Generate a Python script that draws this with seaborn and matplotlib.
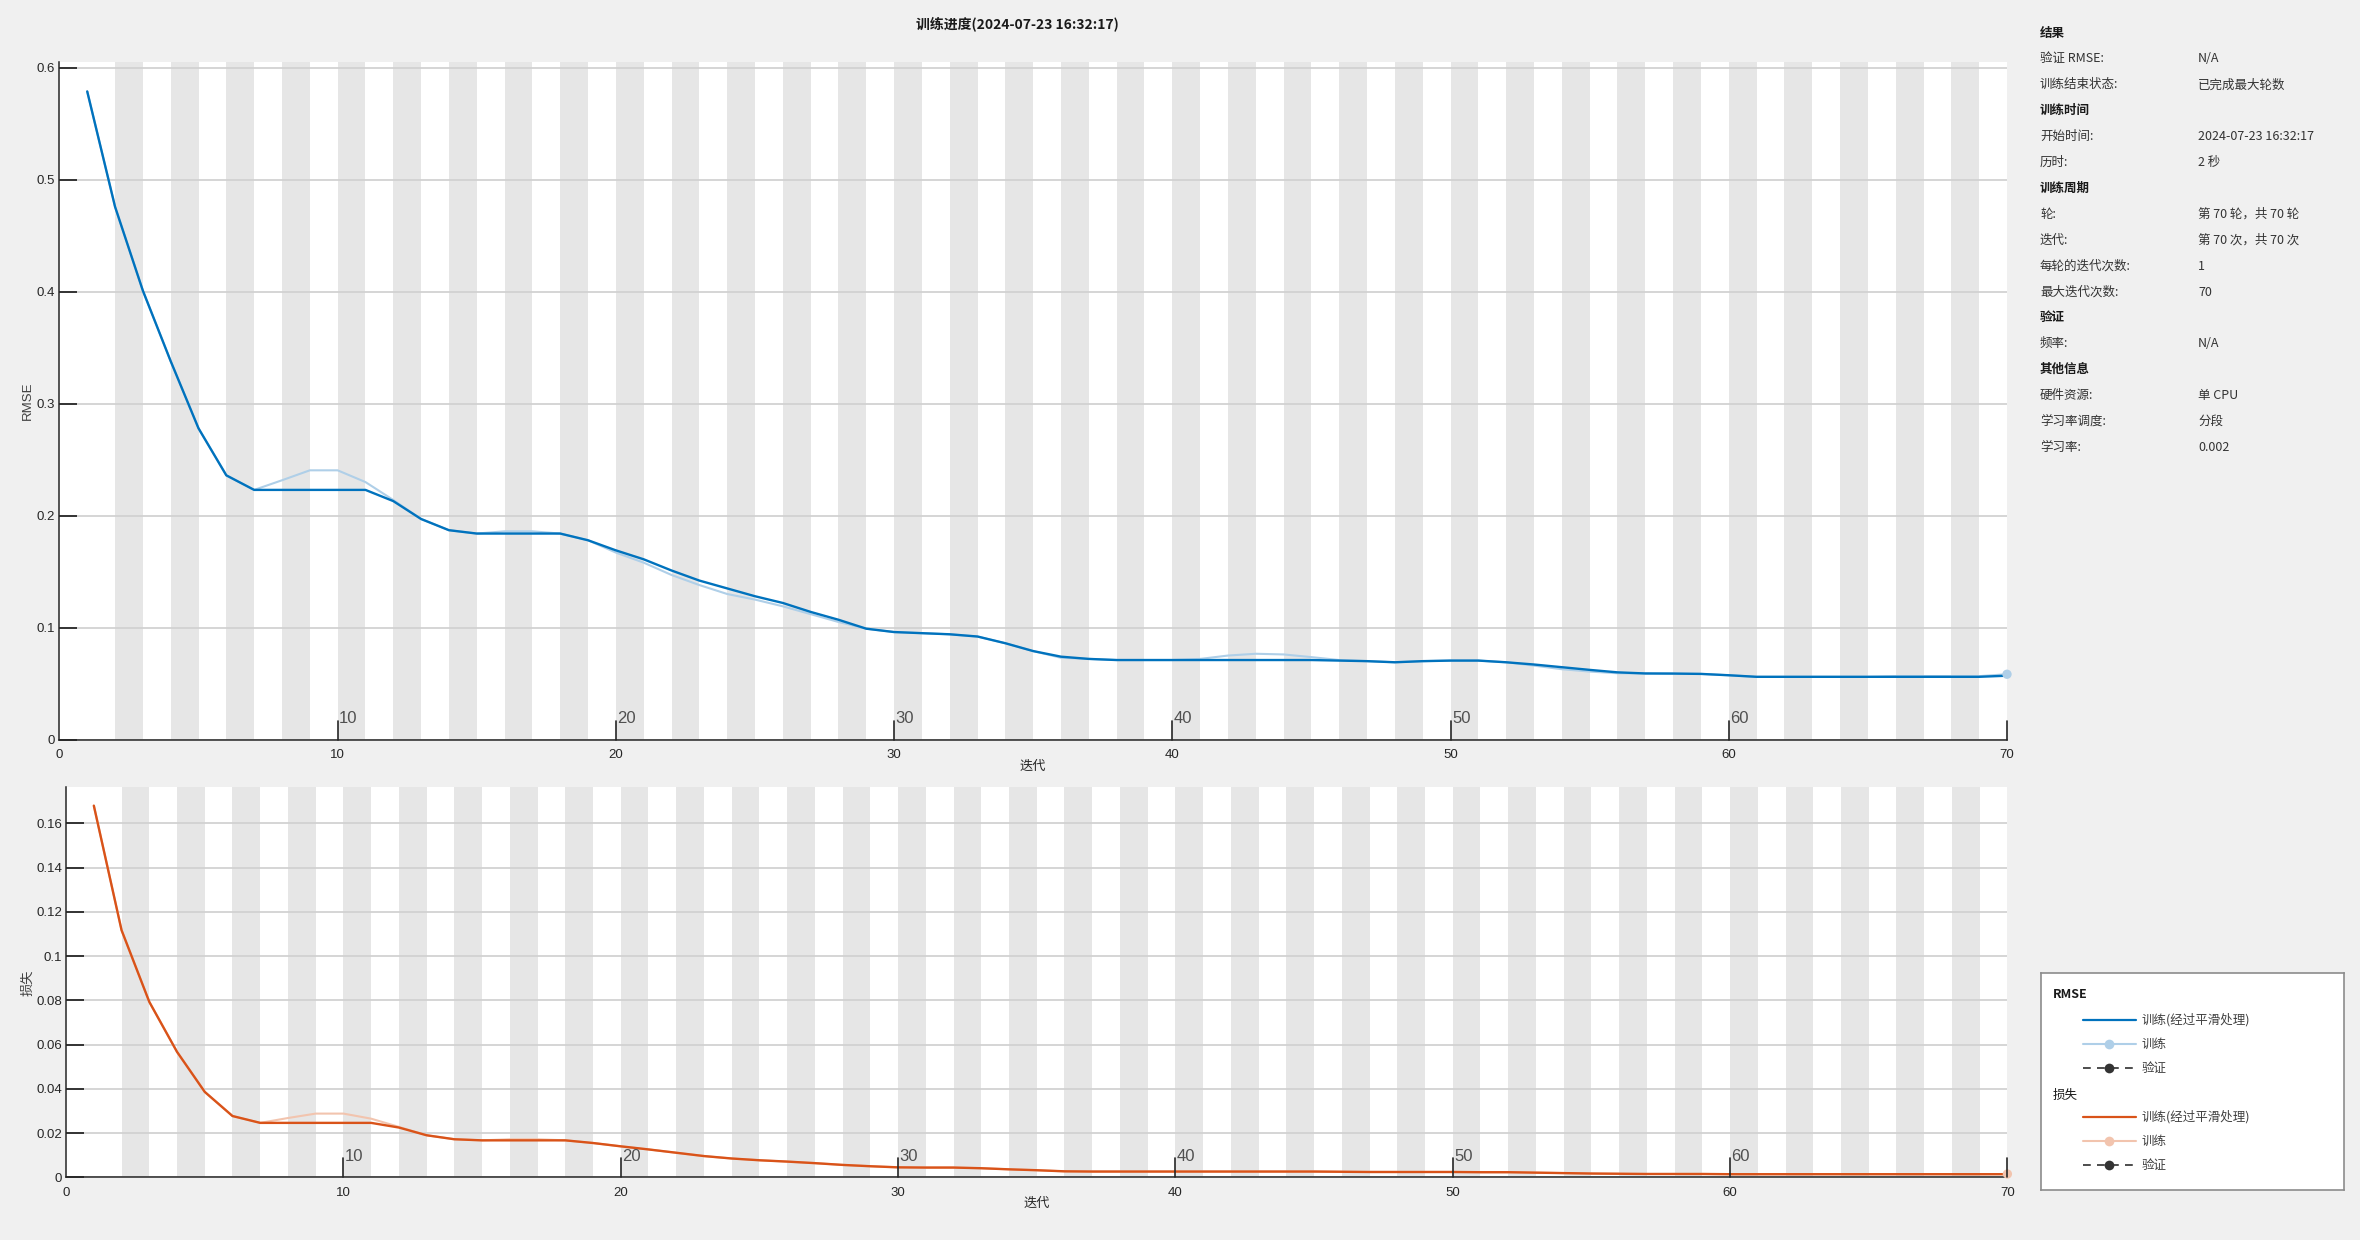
import numpy as np
import pandas as pd
import matplotlib
matplotlib.use("Agg")
import matplotlib.pyplot as plt
import seaborn as sns
from matplotlib import font_manager

# ---------------- data ----------------
iterations = list(range(1, 71))

rmse_smoothed = [0.579, 0.476, 0.401, 0.338, 0.278, 0.236, 0.223, 0.223, 0.223, 0.223,
                 0.223, 0.213, 0.197, 0.187, 0.184, 0.184, 0.184, 0.184, 0.178, 0.169,
                 0.161, 0.151, 0.142, 0.135, 0.128, 0.122, 0.114, 0.107, 0.099, 0.096,
                 0.095, 0.094, 0.092, 0.086, 0.079, 0.074, 0.072, 0.071, 0.071, 0.071,
                 0.071, 0.071, 0.071, 0.071, 0.071, 0.0705, 0.070, 0.069, 0.070, 0.0705,
                 0.0705, 0.069, 0.067, 0.0646, 0.0622, 0.060, 0.059, 0.0589, 0.0586, 0.0574,
                 0.056, 0.056, 0.056, 0.056, 0.056, 0.056, 0.056, 0.056, 0.056, 0.057]

rmse_raw = [0.579, 0.476, 0.401, 0.338, 0.278, 0.236, 0.223, 0.2316, 0.2405, 0.2405,
            0.230, 0.214, 0.197, 0.187, 0.184, 0.186, 0.186, 0.184, 0.178, 0.167,
            0.158, 0.147, 0.138, 0.130, 0.125, 0.119, 0.112, 0.105, 0.099, 0.096,
            0.095, 0.094, 0.092, 0.086, 0.079, 0.073, 0.072, 0.071, 0.071, 0.071,
            0.072, 0.075, 0.0766, 0.076, 0.0736, 0.071, 0.070, 0.069, 0.070, 0.0705,
            0.0705, 0.069, 0.066, 0.0628, 0.0607, 0.0592, 0.059, 0.0589, 0.0586, 0.0574,
            0.056, 0.056, 0.056, 0.056, 0.056, 0.0566, 0.0566, 0.0566, 0.0566, 0.0583]

loss_smoothed = [0.168, 0.1117, 0.0793, 0.0567, 0.0386, 0.0277, 0.0246, 0.0246, 0.0246, 0.0246,
                 0.0246, 0.0225, 0.0190, 0.0172, 0.0167, 0.0167, 0.0167, 0.0167, 0.0155, 0.0140,
                 0.0126, 0.0111, 0.0096, 0.0085, 0.0077, 0.0071, 0.0064, 0.0056, 0.0050, 0.0045,
                 0.0044, 0.0044, 0.0041, 0.0036, 0.0032, 0.0027, 0.0026, 0.0026, 0.0026, 0.0026,
                 0.0026, 0.0026, 0.0026, 0.0026, 0.0026, 0.0025, 0.0024, 0.0024, 0.0024, 0.0024,
                 0.0023, 0.0023, 0.0021, 0.0019, 0.0017, 0.0016, 0.0015, 0.0015, 0.0015, 0.0014,
                 0.0014, 0.0014, 0.0014, 0.0014, 0.0014, 0.0014, 0.0014, 0.0014, 0.0014, 0.0014]

loss_raw = [0.168, 0.1117, 0.0793, 0.0567, 0.0386, 0.0277, 0.0246, 0.0268, 0.0288, 0.0288,
            0.0265, 0.0228, 0.0190, 0.0172, 0.0167, 0.0172, 0.0172, 0.0167, 0.0155, 0.0140,
            0.0126, 0.0111, 0.0096, 0.0085, 0.0077, 0.0071, 0.0064, 0.0056, 0.0050, 0.0045,
            0.0044, 0.0044, 0.0041, 0.0036, 0.0032, 0.0027, 0.0026, 0.0026, 0.0026, 0.0026,
            0.0026, 0.0026, 0.0026, 0.0026, 0.0026, 0.0025, 0.0024, 0.0024, 0.0024, 0.0024,
            0.0023, 0.0023, 0.0021, 0.0019, 0.0017, 0.0016, 0.0015, 0.0015, 0.0015, 0.0014,
            0.0014, 0.0014, 0.0014, 0.0014, 0.0014, 0.0014, 0.0014, 0.0014, 0.0014, 0.0015]

rmse_yticks = [0, 0.1, 0.2, 0.3, 0.4, 0.5, 0.6]
loss_yticks = [0, 0.02, 0.04, 0.06, 0.08, 0.1, 0.12, 0.14, 0.16]
x_ticks = [0, 10, 20, 30, 40, 50, 60, 70]
epoch_ticks = [10, 20, 30, 40, 50, 60, 70]
epoch_labels = ["10", "20", "30", "40", "50", "60", ""]
shaded_epochs = list(range(3, 70, 2))  # alternating epoch bands

title_text = "训练进度(2024-07-23 16:32:17)"
rmse_label = "RMSE"
loss_label = "损失"
x_label = "迭代"

info_labels = ["结果", "验证 RMSE:", "训练结束状态:", "训练时间", "开始时间:", "历时:",
               "训练周期", "轮:", "迭代:", "每轮的迭代次数:", "最大迭代次数:", "验证", "频率:",
               "其他信息", "硬件资源:", "学习率调度:", "学习率:"]
info_values = ["", "N/A", "已完成最大轮数", "", "2024-07-23 16:32:17", "2 秒",
               "", "第 70 轮，共 70 轮", "第 70 次，共 70 次", "1", "70", "", "N/A",
               "", "单 CPU", "分段", "0.002"]
info_is_header = [True, False, False, True, False, False, True, False, False, False, False,
                  True, False, True, False, False, False]

legend_groups = ["RMSE", "损失"]
legend_entries = ["训练(经过平滑处理)", "训练", "验证"]

# ---------------- style ----------------
C_RMSE = "#0072BD"
C_RMSE_LIGHT = "#AFCFE8"
C_LOSS = "#D95319"
C_LOSS_LIGHT = "#F2C4AE"
C_BAND = "#E6E6E6"
C_FIG = "#F0F0F0"
C_TEXT = "#262626"

sns.set_theme(style="white")
available = {f.name for f in font_manager.fontManager.ttflist}
tick_font = "Liberation Sans Narrow" if "Liberation Sans Narrow" in available else "Liberation Sans"
plt.rcParams["font.family"] = [tick_font, "Noto Sans CJK SC", "DejaVu Sans"]
CJK = ["Noto Sans CJK SC", "DejaVu Sans"]

W, H = 2360, 1240
fig = plt.figure(figsize=(W / 100, H / 100), dpi=100, facecolor=C_FIG)


def px_rect(left, top, right, bottom):
    return [left / W, 1 - bottom / H, (right - left) / W, (bottom - top) / H]


ax1 = fig.add_axes(px_rect(59.4, 62, 2007, 739.5))
ax2 = fig.add_axes(px_rect(66.1, 787.3, 2007.4, 1177.3))

panels = [
    (ax1, rmse_smoothed, rmse_raw, C_RMSE, C_RMSE_LIGHT, rmse_yticks, (0, 0.6053), rmse_label,
     (-0.013, 0.5), (0.5, -0.031), 677.5),
    (ax2, loss_smoothed, loss_raw, C_LOSS, C_LOSS_LIGHT, loss_yticks, (0, 0.1763), loss_label,
     (-0.0165, 0.5), (0.5, -0.053), 390.0),
]

for ax, smooth, raw, cdark, clight, yt, ylim, ylab, ylc, xlc, hpx in panels:
    ax.set_facecolor("white")
    for e in shaded_epochs:
        ax.axvspan(e - 1, e, color=C_BAND, lw=0, zorder=0.2)
    df = pd.DataFrame({"iter": iterations, "smooth": smooth, "raw": raw})
    sns.lineplot(data=df, x="iter", y="raw", ax=ax, color=clight, lw=1.5, zorder=2)
    sns.lineplot(data=df, x="iter", y="smooth", ax=ax, color=cdark, lw=1.7, zorder=3)
    sns.scatterplot(data=df.tail(1), x="iter", y="raw", ax=ax, color=clight, s=45,
                    edgecolor="none", zorder=4, clip_on=False)
    ax.set_xlim(0, 70)
    ax.set_ylim(*ylim)
    ax.set_yticks(yt)
    ax.set_yticklabels([f"{v:g}" for v in yt])
    ax.set_xticks(x_ticks)
    ax.set_xticklabels([str(v) for v in x_ticks])
    ax.grid(axis="y", color="#D2D2D2", lw=1.3)
    ax.set_axisbelow(True)
    for s in ("top", "right"):
        ax.spines[s].set_visible(False)
    for s in ("left", "bottom"):
        ax.spines[s].set_color(C_TEXT)
        ax.spines[s].set_linewidth(1.1)
    ax.tick_params(axis="y", direction="in", length=13, width=1.4, color="#333333",
                   labelsize=9.5, pad=3, labelcolor=C_TEXT, left=True)
    ax.tick_params(axis="x", length=0, labelsize=9.5, pad=7, labelcolor=C_TEXT)
    ax.set_ylabel(ylab, fontsize=9.5, color="#404040")
    ax.yaxis.set_label_coords(*ylc)
    ax.set_xlabel(x_label, fontsize=9.5, color=C_TEXT)
    ax.xaxis.set_label_coords(*xlc)
    # epoch markers along the x axis
    tfrac = 19 / hpx
    trans = ax.get_xaxis_transform()
    for e, lab in zip(epoch_ticks, epoch_labels):
        ax.plot([e, e], [0, tfrac], transform=trans, color=C_TEXT, lw=1.2,
                clip_on=False, zorder=5)
        if lab:
            ax.annotate(lab, xy=(e, 0), xycoords=trans, xytext=(1, 15),
                        textcoords="offset points", ha="left", va="center",
                        fontsize=12, color="#505050")

# title
fig.text(1017 / W, 1 - 24 / H, title_text, ha="center", va="center", fontsize=10,
         fontweight="bold", color="#1a1a1a", family=CJK)

# info panel
for k, (lab, val, hdr) in enumerate(zip(info_labels, info_values, info_is_header)):
    y = 1 - (33 + k * 25.9) / H
    fig.text(2040 / W, y, lab, ha="left", va="center", fontsize=9, family=CJK,
             fontweight="bold" if hdr else "normal",
             color="#1a1a1a" if hdr else "#333333")
    if val:
        fig.text(2198 / W, y, val, ha="left", va="center", fontsize=9, family=CJK,
                 color="#333333")

# legend box
lax = fig.add_axes(px_rect(2041, 973, 2344, 1190))
lax.set_xlim(0, 1)
lax.set_ylim(0, 1)
lax.set_xticks([])
lax.set_yticks([])
lax.set_facecolor("white")
for s in lax.spines.values():
    s.set_color("#8C8C8C")
    s.set_linewidth(1.2)

group_specs = [(legend_groups[0], C_RMSE, C_RMSE_LIGHT, 0.899, [0.783, 0.673, 0.562], "bold"),
               (legend_groups[1], C_LOSS, C_LOSS_LIGHT, 0.438, [0.336, 0.226, 0.115], "normal")]
x0, x1, xm, xt = 0.139, 0.3135, 0.226, 0.333
for name, cd, cl, yh, ys, fw in group_specs:
    lax.text(0.04, yh, name, ha="left", va="center", fontsize=9, fontweight=fw,
             color="#1a1a1a", family=CJK)
    lax.plot([x0, x1], [ys[0]] * 2, color=cd, lw=1.6)
    lax.plot([x0, x1], [ys[1]] * 2, color=cl, lw=1.5)
    lax.plot([xm], [ys[1]], "o", color=cl, ms=7, mec="none")
    lax.plot([x0, x1], [ys[2]] * 2, color="#4d4d4d", lw=1.4, dashes=(4, 3.2))
    lax.plot([xm], [ys[2]], "o", color="#333333", ms=7, mec="none")
    for yy, txt in zip(ys, legend_entries):
        lax.text(xt, yy, txt, ha="left", va="center", fontsize=9, color="#404040",
                 family=CJK)

fig.savefig("out.png", dpi=100, facecolor=C_FIG)
